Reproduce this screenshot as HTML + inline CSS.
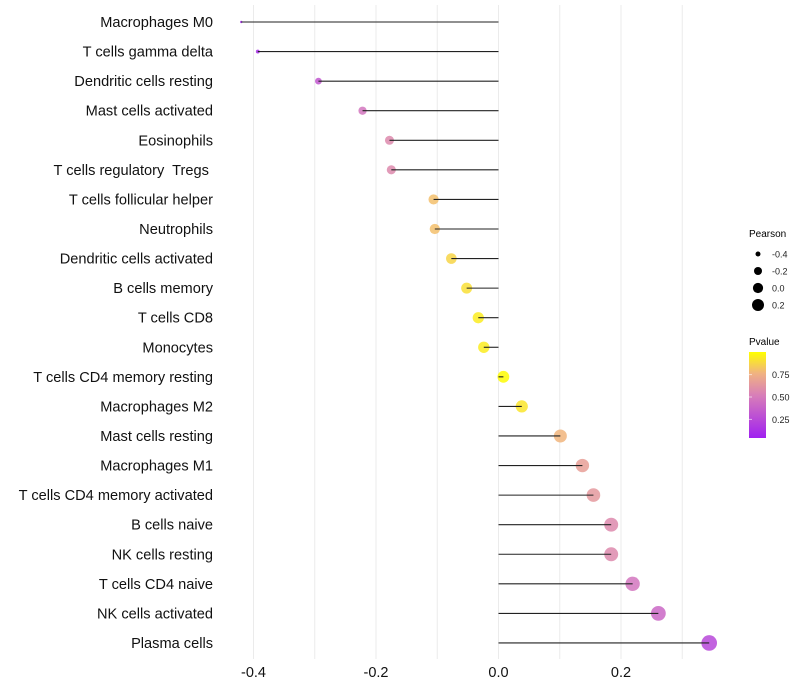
<!DOCTYPE html>
<html><head><meta charset="utf-8"><style>
body{margin:0;background:#fff;}
svg{display:block;font-family:"Liberation Sans",Arial,sans-serif;}
text{white-space:pre;}
</style></head><body>
<svg id="chart" width="800" height="700">
<defs><linearGradient id="pg" x1="0" y1="1" x2="0" y2="0">
<stop offset="0" stop-color="#a020f0"/><stop offset="0.5" stop-color="#d87fb8"/><stop offset="0.75" stop-color="#f0b282"/><stop offset="1" stop-color="#ffff00"/>
</linearGradient></defs>
<g id="grid"></g><g id="marks"></g><g id="labels"></g><g id="xticks"></g>
<g>
<text x="749" y="237" font-size="10">Pearson</text>
<g id="sizeleg"></g>
</g>
<g>
<text x="749" y="345" font-size="10">Pvalue</text>
<rect x="749" y="352" width="17" height="86" fill="url(#pg)"/>
<g id="colleg"></g>
</g>
</svg>
<script>
const categories=["Macrophages M0","T cells gamma delta","Dendritic cells resting","Mast cells activated","Eosinophils","T cells regulatory  Tregs ","T cells follicular helper","Neutrophils","Dendritic cells activated","B cells memory","T cells CD8","Monocytes","T cells CD4 memory resting","Macrophages M2","Mast cells resting","Macrophages M1","T cells CD4 memory activated","B cells naive","NK cells resting","T cells CD4 naive","NK cells activated","Plasma cells"];
const pearson=[-0.42,-0.393,-0.294,-0.222,-0.178,-0.175,-0.106,-0.104,-0.077,-0.052,-0.033,-0.024,0.008,0.038,0.101,0.137,0.155,0.184,0.184,0.219,0.261,0.344];
const pvalue=[0.05,0.08,0.3,0.45,0.55,0.55,0.78,0.78,0.85,0.88,0.92,0.92,0.97,0.9,0.75,0.65,0.62,0.55,0.55,0.45,0.38,0.22];
const xTicks=[-0.4,-0.2,0.0,0.2];
const xGrid=[-0.4,-0.3,-0.2,-0.1,0,0.1,0.2,0.3];
const sizeLegend=[-0.4,-0.2,0.0,0.2];
const colorLegend=[0.25,0.5,0.75];
const NS="http://www.w3.org/2000/svg";
const X=v=>498.5+v*612.5;
const Y=i=>22+i*29.57;
const R=v=>Math.sqrt(Math.max(2,26+49.6*v));
const RP=v=>Math.sqrt(Math.max(1.5,1.5+78*(v+0.42)));
function hex(c){return [parseInt(c.slice(1,3),16),parseInt(c.slice(3,5),16),parseInt(c.slice(5,7),16)];}
const stops=[[0,"#a020f0"],[0.5,"#d87fb8"],[0.75,"#f0b282"],[1,"#ffff00"]];
function col(p){const t=Math.min(1,Math.max(0,(p-0.02)/0.96));
 for(let k=0;k<stops.length-1;k++){if(t<=stops[k+1][0]){const a=hex(stops[k][1]),b=hex(stops[k+1][1]);const f=(t-stops[k][0])/(stops[k+1][0]-stops[k][0]);return "rgb("+a.map((x,j)=>Math.round(x+(b[j]-x)*f)).join(",")+")";}}
 return stops[3][1];}
function mk(tag,attrs,parent){const e=document.createElementNS(NS,tag);for(const k in attrs)e.setAttribute(k,attrs[k]);parent.appendChild(e);return e;}
const grid=document.getElementById('grid'),marks=document.getElementById('marks'),labels=document.getElementById('labels'),xt=document.getElementById('xticks');
xGrid.forEach(v=>{const l=mk('line',{x1:X(v),x2:X(v),y1:5,y2:659,stroke:'#ebebeb','stroke-width':1},grid);

});
xTicks.forEach(v=>{const t=mk('text',{x:X(v),y:677,'font-size':14.5,'text-anchor':'middle',fill:'#111'},xt);t.textContent=v.toFixed(1);

});
categories.forEach((c,i)=>{
 const y=Y(i);
 const t=mk('text',{x:213,y:y+5,'font-size':14.6,'text-anchor':'end',fill:'#111'},labels);t.textContent=c;
 
 
 const cir=mk('circle',{cx:X(pearson[i]),cy:y,r:RP(pearson[i]),fill:col(pvalue[i]),'fill-opacity':0.85},marks);
 
 
 const l=mk('line',{x1:X(0),x2:X(pearson[i]),y1:y,y2:y,stroke:'#222','stroke-width':1.1},marks);
 
 
});
const sl=document.getElementById('sizeleg');
sizeLegend.forEach((v,k)=>{const y=254+k*17;
 const c=mk('circle',{cx:758,cy:y,r:R(v),fill:'#000'},sl);
 
 
 const t=mk('text',{x:772,y:y+3.5,'font-size':9,fill:'#222'},sl);t.textContent=v.toFixed(1);
 
 });
const cl=document.getElementById('colleg');
colorLegend.forEach(p=>{const y=438-(p-0.02)/0.96*86+2;
 const t=mk('text',{x:772,y:y+3.5,'font-size':9,fill:'#222'},cl);t.textContent=p.toFixed(2);
 
 
 const l=mk('line',{x1:749,x2:752,y1:y,y2:y,stroke:'#fff','stroke-opacity':0.6},cl);
 
 });
</script>
</body></html>
